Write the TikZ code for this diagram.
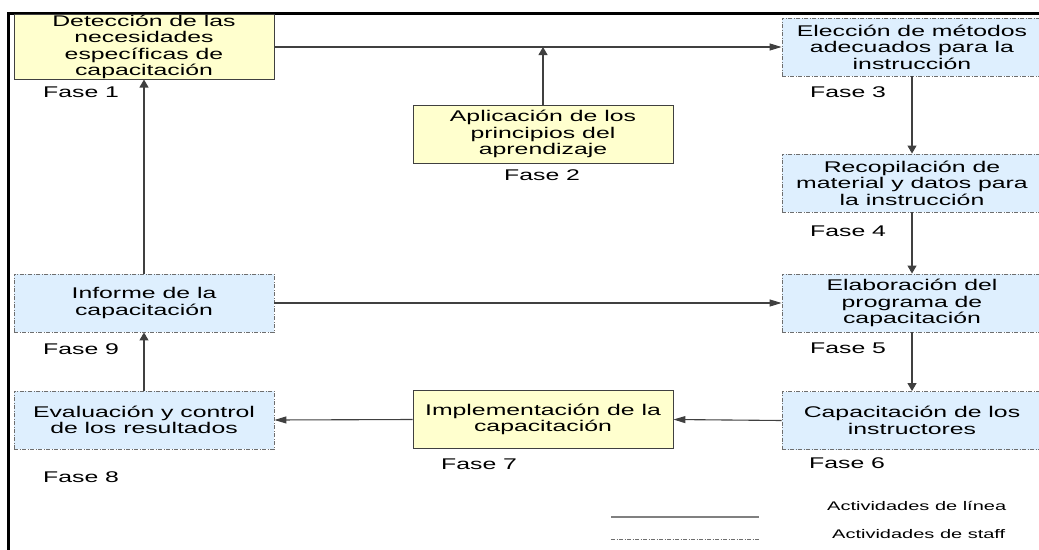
\documentclass[tikz,border=0pt]{standalone}
\usepackage{fontspec}
\setmainfont{Liberation Sans}
\newfontfamily\widesans[FakeStretch=1.6]{Liberation Sans}
\usetikzlibrary{arrows.meta}
\definecolor{paleyellow}{RGB}{255,255,206}
\definecolor{paleblue}{RGB}{222,239,254}
\definecolor{edgegray}{RGB}{64,64,64}
\definecolor{staffgray}{RGB}{110,110,110}

\begin{document}
\begin{tikzpicture}[x=1pt,y=-1pt,
  every node/.style={font=\widesans\fontsize{15.5}{16.5}\selectfont, inner sep=0pt, text=black},
  box/.style={minimum width=260pt, minimum height=58pt, align=center, line width=0.9pt},
  linebox/.style={box, fill=paleyellow, draw=edgegray},
  staffbox/.style={box, fill=paleblue, draw=staffgray, dash pattern=on 4pt off 1.5pt on 1pt off 1.5pt},
  conn/.style={draw=edgegray, line width=1.1pt},
  harr/.style={conn, -{Triangle[length=12pt,width=7pt]}},
  varr/.style={conn, -{Triangle[length=8pt,width=9pt]}},
  fase/.style={anchor=base west},
  legendtxt/.style={anchor=base west, font=\widesans\fontsize{12.5}{14}\selectfont}]

\useasboundingbox (0,0) rectangle (1039,549);
\clip (0,0) rectangle (1039,549);

% outer frame (top and left edges)
\draw[line width=3pt] (1045,13) -- (8,13) -- (8,555);

% phase boxes
\node[linebox]  (f1) at (144,47)    {Detección de las\\necesidades\\específicas de\\capacitación};
\node[linebox]  (f2) at (543,134)   {Aplicación de los\\principios del\\aprendizaje};
\node[staffbox] (f3) at (912,47)    {Elección de métodos\\adecuados para la\\instrucción};
\node[staffbox] (f4) at (912,183)   {Recopilación de\\material y datos para\\la instrucción};
\node[staffbox] (f5) at (912,303)   {Elaboración del\\programa de\\capacitación};
\node[staffbox] (f6) at (912,420.5) {Capacitación de los\\instructores};
\node[linebox]  (f7) at (543,419.5) {Implementación de la\\capacitación};
\node[staffbox] (f8) at (144,420)   {Evaluación y control\\de los resultados};
\node[staffbox] (f9) at (144,303)   {Informe de la\\capacitación};

% phase labels
\node[fase] (p1) at (43,97)   {Fase 1};
\node[fase] (p2) at (504,180) {Fase 2};
\node[fase] (p3) at (810,97)  {Fase 3};
\node[fase] (p4) at (810,236) {Fase 4};
\node[fase] (p5) at (810,353) {Fase 5};
\node[fase] (p6) at (809,468) {Fase 6};
\node[fase] (p7) at (441,469) {Fase 7};
\node[fase] (p8) at (43,482)  {Fase 8};
\node[fase] (p9) at (43,354)  {Fase 9};

% connectors
\coordinate (j2) at (f2.north |- f1.east);
\draw[harr] (f1.east) -- (f3.west);
\draw[varr] (f2.north) -- (j2);
\draw[varr] (f3.south) -- (f4.north);
\draw[varr] (f4.south) -- (f5.north);
\draw[varr] (f5.south) -- (f6.north);
\draw[harr] (f6.west) -- (f7.east);
\draw[harr] (f7.west) -- (f8.east);
\draw[varr] (f8.north) -- (f9.south);
\draw[varr] (f9.north) -- (f1.south);
\draw[harr] (f9.east) -- (f5.west);

% legend
\coordinate (la) at (611,517);
\coordinate (lb) at (759,517);
\coordinate (sa) at (611,539);
\coordinate (sb) at (759,539);
\draw[draw=gray, line width=2pt] (la) -- (lb);
\draw[draw=staffgray, line width=0.9pt, dash pattern=on 4pt off 1.5pt on 1pt off 1.5pt] (sa) -- (sb);
\node[legendtxt] (lt1) at (827,510) {Actividades de línea};
\node[legendtxt] (lt2) at (832,538) {Actividades de staff};
\end{tikzpicture}
\end{document}
